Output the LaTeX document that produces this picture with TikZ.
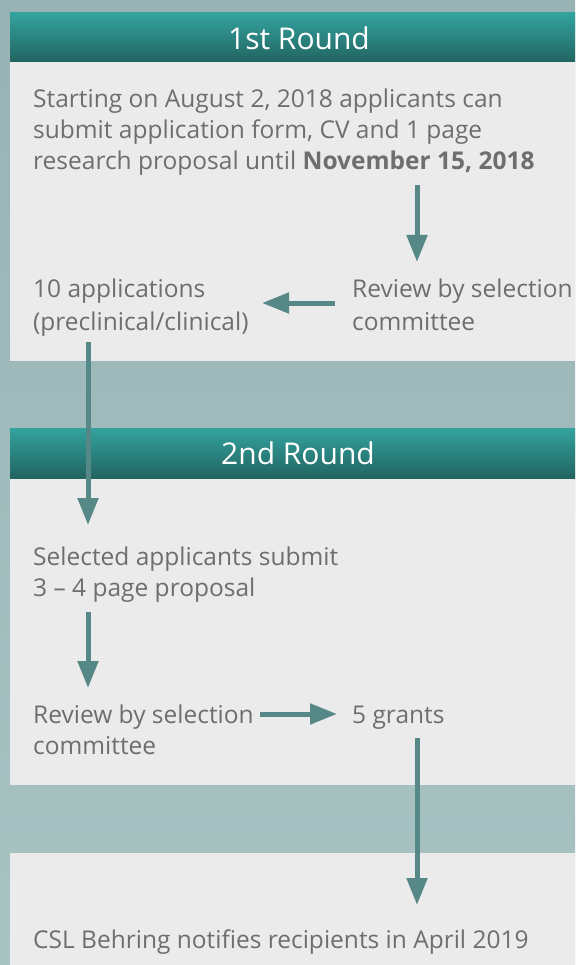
\documentclass[tikz,border=0pt]{standalone}
\usepackage{fontspec}
\setmainfont{Open Sans}
\usetikzlibrary{arrows.meta}
\definecolor{bgA}{HTML}{97B3B3}
\definecolor{bgB}{HTML}{A9C3C3}
\definecolor{panel}{HTML}{EBEBEB}
\definecolor{hdrA}{HTML}{33A39E}
\definecolor{hdrB}{HTML}{226461}
\definecolor{txt}{HTML}{6E6E6E}
\definecolor{arr}{HTML}{568887}
\tikzset{
  body/.style={anchor=base west, inner sep=0pt, text=txt, font=\fontsize{24.5}{28}\selectfont},
  hdr/.style={inner sep=0pt, text=white, font=\fontsize{30}{34}\selectfont},
  flow/.style={draw=arr, line width=5pt, -{Triangle[length=27pt,width=20pt]}, shorten >=0pt},
}
\begin{document}
\begin{tikzpicture}[x=1pt,y=-1pt]
\useasboundingbox (0,0) rectangle (575,965);
% background
\shade[top color=bgA, bottom color=bgB] (0,0) rectangle (575,965);
% panels
\fill[panel] (10,62) rectangle (575,361);
\shade[top color=hdrA, bottom color=hdrB] (10,13) rectangle (575,62);
\fill[panel] (10,478) rectangle (575,785);
\shade[top color=hdrA, bottom color=hdrB] (10,428) rectangle (575,478);
\fill[panel] (10,853) rectangle (575,965);
% headers
\node[hdr] (h1) at (299,38) {1st Round};
\node[hdr] (h2) at (298,453) {2nd Round};
% texts
\node[body] (t1a) at (33,108) {Starting on August 2, 2018 applicants can};
\node[body] (t1b) at (33,139) {submit application form, CV and 1 page};
\node[body] (t1c) at (33,170) {research proposal until \textbf{November 15, 2018}};
\node[body] (apA) at (33,298) {10 applications};
\node[body] (apB) at (33,330) {(preclinical/clinical)};
\node[body] (rvA) at (352,298) {Review by selection};
\node[body] (rvB) at (352,330) {committee};
\node[body] (seA) at (33,565) {Selected applicants submit};
\node[body] (seB) at (33,596) {3 – 4 page proposal};
\node[body] (r2A) at (33,723) {Review by selection};
\node[body] (r2B) at (33,754) {committee};
\node[body] (gr) at (352,723) {5 grants};
\node[body] (csl) at (33,948) {CSL Behring notifies recipients in April 2019};
% connector endpoints
\coordinate (a1s) at (417,185); \coordinate (a1e) at (417,262);
\coordinate (a2s) at (335,303); \coordinate (a2e) at (262,303);
\coordinate (a3s) at (88,342);  \coordinate (a3e) at (88,525);
\coordinate (a4s) at (88,612);  \coordinate (a4e) at (88,688);
\coordinate (a5s) at (260,714); \coordinate (a5e) at (337,714);
\coordinate (a6s) at (417,738); \coordinate (a6e) at (417,905);
\draw[flow] (a1s) -- (a1e);
\draw[flow] (a2s) -- (a2e);
\draw[flow] (a3s) -- (a3e);
\draw[flow] (a4s) -- (a4e);
\draw[flow] (a5s) -- (a5e);
\draw[flow] (a6s) -- (a6e);
\end{tikzpicture}
\end{document}
